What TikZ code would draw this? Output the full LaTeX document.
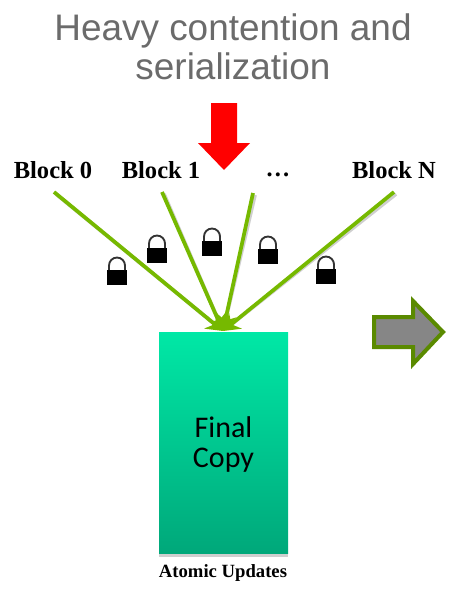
\documentclass[tikz,border=0pt]{standalone}
\usepackage{fontspec}
\setmainfont{Liberation Serif}
\newfontfamily\titlefont{Liberation Sans}
\newfontfamily\copyfont{Carlito}
\usepackage{xcolor}
\usepackage{tikz}
\usetikzlibrary{arrows.meta}
\definecolor{titlegray}{HTML}{6B6B6B}
\definecolor{linegreen}{HTML}{76B900}
\definecolor{arrowgreen}{HTML}{5A8A00}
\definecolor{shadowgray}{HTML}{CFCFCF}
\definecolor{copytop}{HTML}{00E8A6}
\definecolor{copybot}{HTML}{00A87A}
\tikzset{ block_lbl/.style = {font=\bfseries\fontsize{18.4}{20}\selectfont, text=black, inner sep=0pt} }
\tikzset{ write_line/.style = {line width=2.8pt, linegreen, -{Stealth[length=12pt,width=15pt,inset=4pt]}} }
\tikzset{ line_shadow/.style = {line width=2.8pt, shadowgray, shorten >=4pt} }
\tikzset{ lock/.pic = {
    \fill[black] (-10,-7.5) rectangle (10,7.5);
    \draw[line width=1.4pt, black!80] (-8,-7.5) -- (-8,-12) arc[start angle=180, end angle=360, radius=8] -- (8,-7.5);
} }
\begin{document}
\begin{tikzpicture}[x=0.75pt,y=-0.75pt]
    \useasboundingbox (0,0) rectangle (466,596);
    % title
    \node[font=\titlefont\fontsize{27.7}{29.5}\selectfont, text=titlegray, align=center] (title) at (233,47) {Heavy contention and\\serialization};
    % red arrow
    \fill[red] (211,103) -- (237,103) -- (237,143) -- (250,143) -- (224,170) -- (198,143) -- (211,143) -- cycle;
    % blocks
    \node[block_lbl] (b0) at (53,170) {Block 0};
    \node[block_lbl] (b1) at (161,170) {Block 1};
    \node[block_lbl] (b2) at (278,175) {\dots};
    \node[block_lbl] (bn) at (394,170) {Block N};
    \coordinate (s0) at (54,192);
    \coordinate (s1) at (162,192);
    \coordinate (s2) at (253,193);
    \coordinate (sn) at (394,192);
    \coordinate (t) at (223,331);
    % final copy
    \fill[shadowgray] (159,553) rectangle (288,557);
    \shade[top color=copytop, bottom color=copybot] (159,332) rectangle (288,553);
    \node[font=\copyfont\fontsize{22.5}{23}\selectfont, align=center] (copy) at (223.5,444.5) {Final\\Copy};
    \node[font=\bfseries\fontsize{14}{16}\selectfont, inner sep=0pt] (atomic) at (223,573) {Atomic Updates};
    % lines
    \foreach \s in {s0,s1,s2,sn} {
        \draw[line_shadow] ([shift={(2,2)}]\s) to (t);
    }
    \foreach \s in {s0,s1,s2,sn} {
        \draw[write_line] (\s) to (t);
    }
    % locks
    \foreach \x/\y in {117/277.5,157/255.5,212/248.5,268/256.5,326/276.5} {
        \pic at (\x,\y) {lock};
    }
    % gray arrow
    \draw[arrowgreen, fill=gray!95, line width=3pt, miter limit=10] (374,317) -- (413,317) -- (413,301) -- (443,332) -- (413,364) -- (413,347) -- (374,347) -- cycle;
\end{tikzpicture}
\end{document}
